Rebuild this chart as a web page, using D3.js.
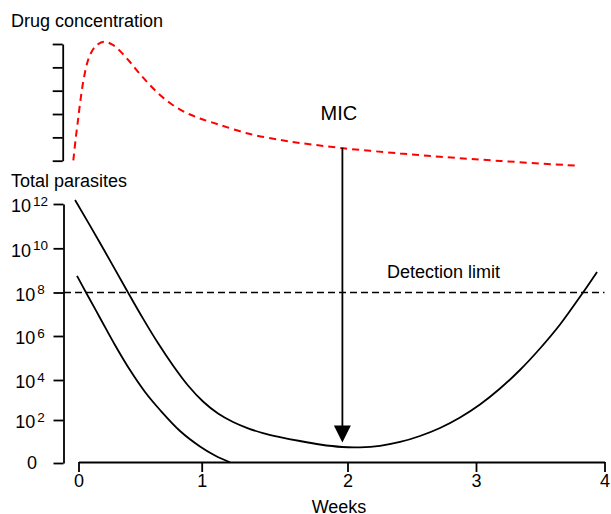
<!DOCTYPE html>
<html><head><meta charset="utf-8">
<script src="https://cdn.jsdelivr.net/npm/d3@7"></script>
<style>
html,body{margin:0;padding:0;background:#fff;}
text{font-family:"Liberation Sans",Arial,Helvetica,sans-serif;fill:#000;}
</style>
</head><body>
<svg id="c" width="611" height="514"></svg>
<script>
// ---- data ----
const weekTicks = [0, 1, 2, 3, 4];
const logTicks = [0, 2, 4, 6, 8, 10, 12];
const concTicks = [0, 1, 2, 3, 4, 5];
const detectionLimitLog = 8;

// Total parasites (log10), recrudescent infection
const upperWeeks = [-0.028, 0.175, 0.402, 0.524, 0.645, 0.767, 0.889, 1.009, 1.112, 1.215, 1.318, 1.420, 1.537, 1.674, 1.811, 1.962, 2.097, 2.253, 2.409, 2.564, 2.720, 2.876, 3.031, 3.187, 3.342, 3.498, 3.654, 3.833, 3.942];
const upperLog   = [12.18, 10.24, 8.0, 6.80, 5.68, 4.66, 3.725, 2.925, 2.325, 1.907, 1.614, 1.395, 1.209, 1.023, 0.860, 0.744, 0.730, 0.80, 0.977, 1.256, 1.628, 2.125, 2.775, 3.575, 4.455, 5.432, 6.529, 8.0, 8.93];
// Total parasites (log10), cured infection
const lowerWeeks = [-0.012, 0.061, 0.175, 0.296, 0.418, 0.540, 0.662, 0.824, 0.986, 1.091, 1.194];
const lowerLog   = [8.75, 8.0, 6.83, 5.59, 4.45, 3.4, 2.5, 1.49, 0.77, 0.35, 0.03];
// Drug concentration (arbitrary units)
const drugWeeks = [-0.042, -0.024, -0.004, 0.016, 0.041, 0.073, 0.110, 0.150, 0.207, 0.272, 0.337, 0.418, 0.499, 0.580, 0.662, 0.743, 0.824, 0.905, 0.986, 1.126, 1.332, 1.537, 1.674, 1.962, 2.409, 2.720, 3.187, 3.770];
const drugConc  = [0.01, 0.89, 1.74, 2.60, 3.46, 4.23, 4.70, 4.96, 5.10, 4.98, 4.70, 4.23, 3.71, 3.24, 2.81, 2.47, 2.19, 1.98, 1.81, 1.53, 1.14, 0.89, 0.76, 0.54, 0.31, 0.17, -0.01, -0.21];
// MIC arrow
const micWeek = 1.965;
const micConc = 0.54;
const arrowTipLog = 0.95;

// ---- scales ----
const svg = d3.select("#c");
const x = d3.scaleLinear().domain(weekTicks).range([78.5, 201.7, 347.5, 476, 604.5]);
const y = d3.scaleLinear().domain(logTicks).range([463, 420, 380, 336, 292.5, 248.3, 204]);
const yc = d3.scaleLinear().domain([0, 5]).range([160.7, 44]);

// ---- axes ----
const gxa = svg.append("g").attr("transform", "translate(0,462)")
  .call(d3.axisBottom(x).tickValues(weekTicks).tickSizeInner(10).tickSizeOuter(0).tickFormat(d3.format("d")));
gxa.selectAll("path,line").attr("stroke", "#000").attr("stroke-width", 1.8);
gxa.selectAll("text").attr("font-size", 18).attr("y", 25).attr("dy", 0)
  .style("font-family", '"Liberation Sans",Arial,sans-serif');

const gya = svg.append("g").attr("transform", "translate(63.5,0)")
  .call(d3.axisLeft(y).tickValues(logTicks).tickSizeInner(10).tickSizeOuter(0).tickFormat(""));
gya.selectAll("path,line").attr("stroke", "#000").attr("stroke-width", 1.8);

const gca = svg.append("g").attr("transform", "translate(62.7,0)")
  .call(d3.axisLeft(yc).tickValues(concTicks).tickSizeInner(10).tickSizeOuter(0).tickFormat(""));
gca.selectAll("path,line").attr("stroke", "#000").attr("stroke-width", 1.8);

// y tick labels with superscripts
logTicks.forEach(e => {
  if (e === 0) {
    svg.append("text").attr("x", 32).attr("y", y(0) + 6).attr("text-anchor", "middle")
      .attr("font-size", 18).text("0");
  } else {
    const len = String(e).length;
    const t = svg.append("text").attr("x", 11 + (2 - len) * 4.3).attr("y", y(e) + 8.3).attr("font-size", 18);
    t.append("tspan").text("10");
    t.append("tspan").attr("dx", 2).attr("dy", -6.5).attr("font-size", 13.5).text(String(e));
  }
});

// ---- detection limit ----
svg.append("line")
  .attr("x1", 64).attr("x2", x(4))
  .attr("y1", y(detectionLimitLog)).attr("y2", y(detectionLimitLog))
  .attr("stroke", "#000").attr("stroke-width", 1.5).attr("stroke-dasharray", "7,4");
svg.append("text").attr("x", 387).attr("y", 278.3).attr("font-size", 18).text("Detection limit");

// ---- parasite curves ----
const line = d3.line().x(d => x(d[0])).y(d => y(d[1])).curve(d3.curveCatmullRom.alpha(0.5));
svg.append("path").datum(d3.zip(upperWeeks, upperLog)).attr("d", line)
  .attr("fill", "none").attr("stroke", "#000").attr("stroke-width", 1.8);
svg.append("path").datum(d3.zip(lowerWeeks, lowerLog)).attr("d", line)
  .attr("fill", "none").attr("stroke", "#000").attr("stroke-width", 1.8);

// ---- drug concentration ----
const cline = d3.line().x(d => x(d[0])).y(d => yc(d[1])).curve(d3.curveCatmullRom.alpha(0.5));
svg.append("path").datum(d3.zip(drugWeeks, drugConc)).attr("d", cline)
  .attr("fill", "none").attr("stroke", "#ff0000").attr("stroke-width", 2)
  .attr("stroke-dasharray", "7,5");

// ---- MIC arrow ----
const ax = x(micWeek), tipY = y(arrowTipLog);
svg.append("line").attr("x1", ax).attr("x2", ax).attr("y1", yc(micConc)).attr("y2", tipY - 10)
  .attr("stroke", "#000").attr("stroke-width", 1.8);
svg.append("path")
  .attr("d", `M${ax},${tipY} L${ax - 8.5},${tipY - 17} L${ax + 8.5},${tipY - 17} Z`)
  .attr("fill", "#000");
svg.append("text").attr("x", 320.5).attr("y", 120).attr("font-size", 20).text("MIC");

// ---- titles ----
svg.append("text").attr("x", 11).attr("y", 26.7).attr("font-size", 18).text("Drug concentration");
svg.append("text").attr("x", 11).attr("y", 186.7).attr("font-size", 18).text("Total parasites");
svg.append("text").attr("x", 339).attr("y", 513).attr("text-anchor", "middle").attr("font-size", 18).text("Weeks");
</script>
</body></html>
